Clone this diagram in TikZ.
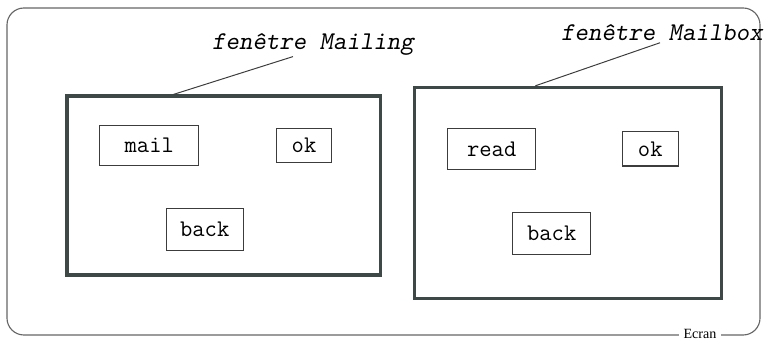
\documentclass[tikz,border=0pt]{standalone}
\usepackage{fontspec}
\newfontfamily\ecranfont{Liberation Serif}
\usetikzlibrary{positioning}
\definecolor{winframe}{RGB}{62,72,70}
\definecolor{inkgray}{RGB}{60,60,60}
\tikzset{
  window/.style={draw=winframe, line width=2.2pt, inner sep=0pt},
  btn/.style={draw=inkgray, line width=0.8pt, inner sep=0pt,
    font=\ttfamily\fontsize{17}{20}\selectfont},
  wlabel/.style={font=\ttfamily\slshape\fontsize{18.2}{21}\selectfont, inner sep=1pt},
  leader/.style={draw=inkgray, line width=0.7pt}
}

\begin{document}
\begin{tikzpicture}[x=0.025cm, y=-0.025cm]
        \useasboundingbox (0,0) rectangle (764,340);
        % we draw the screen frame
        \draw[gray!80!black, line width=0.8pt, rounded corners=12pt] (7,8) rectangle (760,335);
        \node[fill=white, font=\ecranfont\fontsize{10}{11}\selectfont, inner xsep=3pt, inner ysep=0pt] (ecran) at (700,334) {Ecran};

        % window Mailing
        \node[window, minimum width=7.84cm, minimum height=4.475cm] (wmailing) at (223.8,185.5) {};
        \node[btn, minimum width=2.475cm, minimum height=1.0cm] (mail) at (149.3,145.3) {mail};
        \node[btn, minimum width=1.39cm, minimum height=0.85cm] (okmailing) at (304,145.3) {ok};
        \node[btn, minimum width=1.93cm, minimum height=1.03cm] (backmailing) at (204.7,229.5) {back};
        \node[wlabel] (lmailing) at (313,44) {fenêtre Mailing};
        \draw[leader] ([xshift=2.7cm]wmailing.north west) -- ([xshift=-0.5cm]lmailing.south);

        % window Mailbox
        \node[window, minimum width=7.67cm, minimum height=5.27cm] (wmailbox) at (568.3,192.8) {};
        \node[btn, minimum width=2.2cm, minimum height=1.025cm] (read) at (491.7,148.8) {read};
        \node[btn, minimum width=1.4cm, minimum height=0.86cm] (okmailbox) at (650.3,148.8) {ok};
        \node[btn, minimum width=1.95cm, minimum height=1.04cm] (backmailbox) at (551.7,233.5) {back};
        \node[wlabel] (lmailbox) at (662,33) {fenêtre Mailbox};
        \draw[leader] ([xshift=3.05cm]wmailbox.north west) -- ([xshift=-0.05cm]lmailbox.south);
\end{tikzpicture}
\end{document}
